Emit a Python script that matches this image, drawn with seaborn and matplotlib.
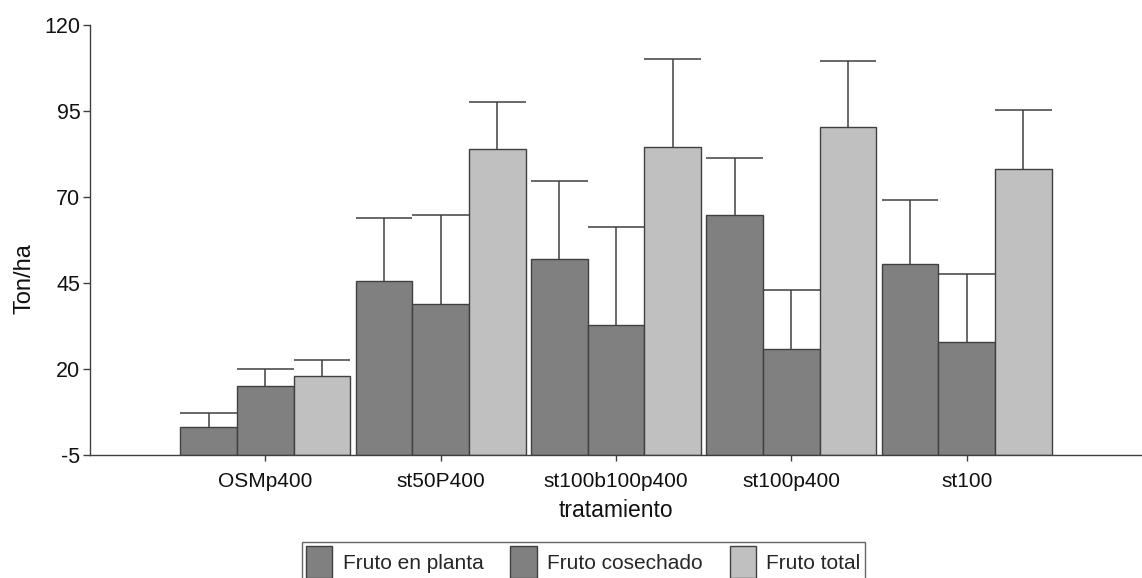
import matplotlib
matplotlib.use("Agg")
import matplotlib.pyplot as plt
import seaborn as sns
import pandas as pd

tratamientos = ["OSMp400", "st50P400", "st100b100p400", "st100p400", "st100"]
series = ["Fruto en planta", "Fruto cosechado", "Fruto total"]

fruto_planta = [3.1, 45.6, 52.0, 64.8, 50.5]
fruto_cosechado = [15.1, 38.9, 32.8, 25.8, 27.8]
fruto_total = [18.0, 84.0, 84.5, 90.3, 78.1]

err_planta = [4.1, 18.3, 22.7, 16.5, 18.6]
err_cosechado = [4.9, 25.9, 28.5, 17.2, 19.8]
err_total = [4.6, 13.6, 25.6, 19.2, 17.2]

y_ticks = [-5, 20, 45, 70, 95, 120]
base = -5

colores = ["#808080", "#808080", "#c0c0c0"]

df = pd.DataFrame({
    "tratamiento": tratamientos * 3,
    "serie": [s for s in series for _ in tratamientos],
    "valor": fruto_planta + fruto_cosechado + fruto_total,
    "error": err_planta + err_cosechado + err_total,
})

sns.set_style("white")
plt.rcParams["font.family"] = ["Liberation Sans", "DejaVu Sans"]

fig = plt.figure(figsize=(11.42, 5.78), dpi=100)
ax = fig.add_axes([0.0788, 0.2128, 0.9212, 0.7439])

sns.barplot(data=df, x="tratamiento", y="valor", hue="serie",
            order=tratamientos, hue_order=series, palette=colores,
            width=0.97, gap=0, errorbar=None, saturation=1,
            edgecolor="#404040", linewidth=1.0, ax=ax)

# Bars rise from the bottom of the value axis; upper error whiskers with full-width caps
patches = [p for p in ax.patches if p.get_width() > 0][:len(df)]
for p, (_, row) in zip(patches, df.iterrows()):
    top = row["valor"]
    p.set_y(base)
    p.set_height(top - base)
    x0, w = p.get_x(), p.get_width()
    xc = x0 + w / 2
    ax.vlines(xc, top, top + row["error"], color="#404040", linewidth=1.1, zorder=3)
    ax.hlines(top + row["error"], x0, x0 + w, color="#404040", linewidth=1.1, zorder=3)

ax.set_xlim(-1.0, 5.0)
ax.set_ylim(-5, 120)
ax.set_yticks(y_ticks)
ax.set_yticklabels([str(t) for t in y_ticks])

for side in ["top", "right"]:
    ax.spines[side].set_visible(False)
for side in ["left", "bottom"]:
    ax.spines[side].set_color("#404040")
    ax.spines[side].set_linewidth(1.0)

ax.tick_params(axis="y", which="both", left=True, length=5, width=1.0,
               color="#404040", labelsize=15.5, pad=2, labelcolor="#111111")
ax.tick_params(axis="x", which="both", bottom=True, length=4, width=1.0,
               color="#404040", labelsize=15, pad=8, labelcolor="#111111")

ax.set_xlabel("tratamiento", fontsize=16.5, color="#111111", labelpad=6)
ax.set_ylabel("Ton/ha", fontsize=17, color="#111111")
ax.yaxis.set_label_coords(-0.052, 0.41)

ax.get_legend().remove()
handles = [plt.Rectangle((0, 0), 1, 1, facecolor=c, edgecolor="#404040", linewidth=1.0)
           for c in colores]
leg = fig.legend(handles, series, loc="upper left",
                 bbox_to_anchor=(302 / 1142, 1 - 542 / 578),
                 ncol=3, frameon=True, fancybox=False, fontsize=15,
                 handlelength=1.25, handleheight=2.0, handletextpad=0.5,
                 columnspacing=1.3, borderpad=0.2, borderaxespad=0)
leg.get_frame().set_edgecolor("#404040")
leg.get_frame().set_linewidth(1.0)

fig.savefig("out.png", dpi=100)
